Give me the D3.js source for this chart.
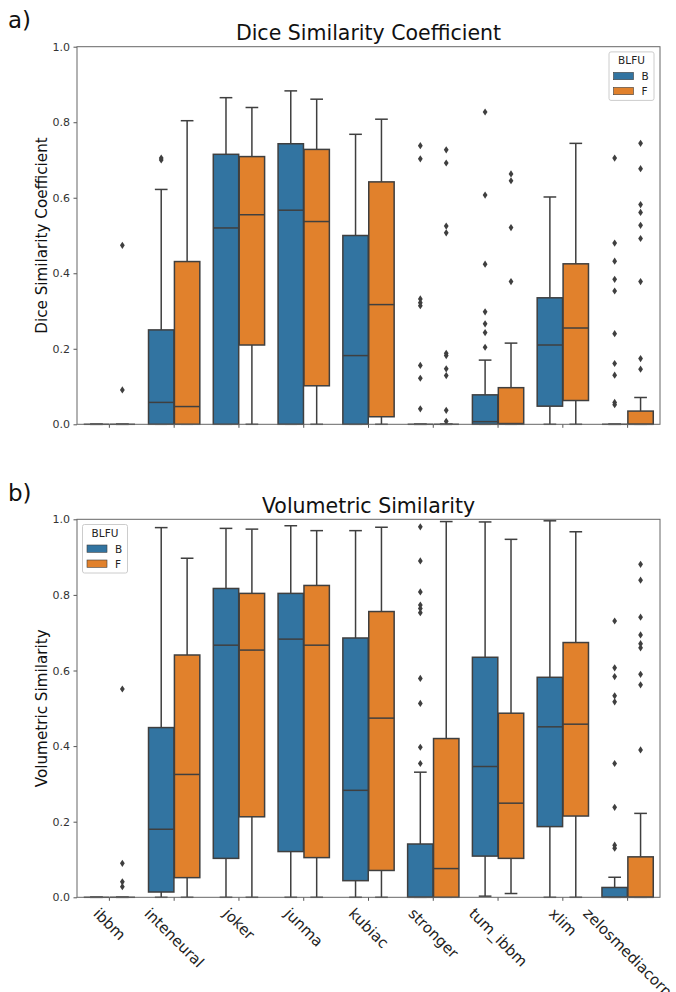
<!DOCTYPE html>
<html>
<head>
<meta charset="utf-8">
<script src="https://cdn.jsdelivr.net/npm/d3@7"></script>
<style>
  body { margin: 0; background: #fff; }
  text { font-family: "DejaVu Sans", sans-serif; }
</style>
</head>
<body>
<svg id="chart"></svg>
<script>
// ---- data ----
const teams = ["ibbm", "inteneural", "joker", "junma", "kubiac", "stronger", "tum_ibbm", "xlim", "zelosmediacorp"]
const hues = ["B", "F"]
const yTicks = [0, 0.2, 0.4, 0.6, 0.8, 1.0]

// Dice, hue B
const diceB_lo  = [0, 0, 0, 0, 0, 0, 0, 0, 0]
const diceB_q1  = [0, 0, 0, 0, 0, 0, 0, 0.048, 0]
const diceB_med = [0, 0.058, 0.52, 0.567, 0.182, 0, 0.007, 0.21, 0]
const diceB_q3  = [0, 0.25, 0.715, 0.743, 0.50, 0, 0.078, 0.335, 0]
const diceB_hi  = [0, 0.622, 0.865, 0.883, 0.768, 0, 0.17, 0.602, 0]
const diceB_out = [
  [], [0.700, 0.705], [], [], [],
  [0.738, 0.703, 0.332, 0.322, 0.314, 0.156, 0.122, 0.041],
  [0.827, 0.607, 0.424, 0.298, 0.266, 0.243, 0.204],
  [],
  [0.705, 0.48, 0.432, 0.384, 0.353, 0.24, 0.161, 0.13, 0.058, 0.052]
]
// Dice, hue F
const diceF_lo  = [0, 0, 0, 0, 0, 0, 0, 0, 0]
const diceF_q1  = [0, 0, 0.21, 0.102, 0.02, 0, 0, 0.063, 0]
const diceF_med = [0, 0.047, 0.555, 0.537, 0.317, 0, 0.002, 0.255, 0]
const diceF_q3  = [0, 0.431, 0.709, 0.728, 0.642, 0, 0.097, 0.425, 0.035]
const diceF_hi  = [0, 0.804, 0.839, 0.861, 0.808, 0, 0.215, 0.744, 0.071]
const diceF_out = [
  [0.474, 0.091], [], [], [], [],
  [0.727, 0.692, 0.525, 0.507, 0.188, 0.182, 0.147, 0.129, 0.037, 0.008],
  [0.663, 0.645, 0.521, 0.378],
  [],
  [0.744, 0.677, 0.582, 0.561, 0.527, 0.492, 0.378, 0.174, 0.146]
]

// Volumetric, hue B
const volB_lo  = [0, 0, 0, 0, 0, 0, 0.003, 0, 0]
const volB_q1  = [0, 0.014, 0.103, 0.121, 0.044, 0, 0.109, 0.187, 0]
const volB_med = [0, 0.18, 0.667, 0.683, 0.283, 0, 0.346, 0.451, 0]
const volB_q3  = [0, 0.449, 0.817, 0.804, 0.686, 0.141, 0.635, 0.582, 0.026]
const volB_hi  = [0, 0.978, 0.976, 0.983, 0.97, 0.331, 0.993, 0.996, 0.053]
const volB_out = [
  [], [], [], [], [],
  [0.98, 0.89, 0.808, 0.773, 0.764, 0.753, 0.579, 0.513, 0.397, 0.354],
  [], [],
  [0.731, 0.607, 0.584, 0.533, 0.517, 0.354, 0.238, 0.138, 0.13]
]
// Volumetric, hue F
const volF_lo  = [0, 0, 0, 0, 0, 0, 0.01, 0, 0]
const volF_q1  = [0, 0.052, 0.213, 0.105, 0.071, 0, 0.103, 0.215, 0]
const volF_med = [0, 0.325, 0.654, 0.667, 0.474, 0.076, 0.249, 0.458, 0]
const volF_q3  = [0, 0.641, 0.804, 0.825, 0.756, 0.42, 0.487, 0.674, 0.107]
const volF_hi  = [0, 0.897, 0.974, 0.97, 0.979, 0.994, 0.947, 0.967, 0.222]
const volF_out = [
  [0.551, 0.09, 0.041, 0.028], [], [], [], [], [], [], [],
  [0.881, 0.839, 0.741, 0.694, 0.671, 0.66, 0.59, 0.562, 0.39]
]

// ---- layout ----
const width = 676, height = 992
const left = 77, right = 660
const colors = { B: "#3274a1", F: "#e1812c" }
const edge = "#3f3f3f"

const svg = d3.select("#chart").attr("width", width).attr("height", height)

const x = d3.scaleBand().domain(teams).range([left, right]).padding(0)
const hueX = d3.scaleBand().domain(hues).range([0.1, 0.9]) // fraction of a band

const makeRows = (lo, q1, med, q3, hi, out) =>
  teams.map((t, i) => ({ team: t, lo: lo[i], q1: q1[i], med: med[i], q3: q3[i], hi: hi[i], out: out[i] }))

const panels = [
  {
    letter: "a)", title: "Dice Similarity Coefficient", ylabel: "Dice Similarity Coefficient",
    top: 46.7, bottom: 424.3, legend: "right", labels: false,
    series: {
      B: makeRows(diceB_lo, diceB_q1, diceB_med, diceB_q3, diceB_hi, diceB_out),
      F: makeRows(diceF_lo, diceF_q1, diceF_med, diceF_q3, diceF_hi, diceF_out)
    }
  },
  {
    letter: "b)", title: "Volumetric Similarity", ylabel: "Volumetric Similarity",
    top: 519.3, bottom: 897.3, legend: "left", labels: true,
    series: {
      B: makeRows(volB_lo, volB_q1, volB_med, volB_q3, volB_hi, volB_out),
      F: makeRows(volF_lo, volF_q1, volF_med, volF_q3, volF_hi, volF_out)
    }
  }
]

const diamond = "M0,-3.6L2.4,0L0,3.6L-2.4,0Z"

const drawPanel = (p) => {
  const y = d3.scaleLinear().domain([0, 1]).range([p.bottom, p.top])
  const g = svg.append("g")
  const boxW = x.bandwidth() * 0.4 * 0.98
  const capW = boxW / 2

  // panel letter + title
  g.append("text").attr("x", 8).attr("y", p.top - 18.5)
    .attr("font-size", 23).attr("fill", "#111").text(p.letter)
  g.append("text").attr("x", (left + right) / 2).attr("y", p.top - 6.8)
    .attr("text-anchor", "middle").attr("font-size", 20.5).attr("fill", "#111").text(p.title)

  // y axis label
  g.append("text")
    .attr("transform", `translate(47, ${(p.top + p.bottom) / 2}) rotate(-90)`)
    .attr("text-anchor", "middle").attr("font-size", 15.2).attr("fill", "#111").text(p.ylabel)

  // y axis
  const ya = g.append("g").attr("transform", `translate(${left},0)`)
    .call(d3.axisLeft(y).tickValues(yTicks).tickFormat(d3.format(".1f")).tickSize(3.5).tickPadding(3.5))
  ya.select(".domain").remove()
  ya.selectAll(".tick line").attr("stroke", "#555")
  ya.selectAll(".tick text").attr("font-size", 11).attr("fill", "#333").style("font-family", "DejaVu Sans")

  // x axis ticks
  const xa = g.append("g").attr("transform", `translate(0,${p.bottom})`)
    .call(d3.axisBottom(x).tickSize(3.5).tickFormat(""))
  xa.select(".domain").remove()
  xa.selectAll(".tick line").attr("stroke", "#555")

  // boxes
  hues.forEach(h => {
    const rows = p.series[h]
    const cx = d => x(d.team) + x.bandwidth() * (hueX(h) + hueX.bandwidth() / 2)
    const bg = g.append("g")

    // whiskers
    bg.selectAll(".wl").data(rows).enter().append("line")
      .attr("x1", cx).attr("x2", cx)
      .attr("y1", d => y(d.q1)).attr("y2", d => y(d.lo))
      .attr("stroke", edge).attr("stroke-width", 1.5)
    bg.selectAll(".wh").data(rows).enter().append("line")
      .attr("x1", cx).attr("x2", cx)
      .attr("y1", d => y(d.q3)).attr("y2", d => y(d.hi))
      .attr("stroke", edge).attr("stroke-width", 1.5)
    // caps
    bg.selectAll(".cl").data(rows).enter().append("line")
      .attr("x1", d => cx(d) - capW / 2).attr("x2", d => cx(d) + capW / 2)
      .attr("y1", d => y(d.lo)).attr("y2", d => y(d.lo))
      .attr("stroke", edge).attr("stroke-width", 1.5)
    bg.selectAll(".ch").data(rows).enter().append("line")
      .attr("x1", d => cx(d) - capW / 2).attr("x2", d => cx(d) + capW / 2)
      .attr("y1", d => y(d.hi)).attr("y2", d => y(d.hi))
      .attr("stroke", edge).attr("stroke-width", 1.5)
    // box
    bg.selectAll(".box").data(rows).enter().append("rect")
      .attr("x", d => cx(d) - boxW / 2).attr("width", boxW)
      .attr("y", d => y(d.q3)).attr("height", d => y(d.q1) - y(d.q3))
      .attr("fill", colors[h]).attr("stroke", edge).attr("stroke-width", 1.5)
    // median
    bg.selectAll(".med").data(rows).enter().append("line")
      .attr("x1", d => cx(d) - boxW / 2).attr("x2", d => cx(d) + boxW / 2)
      .attr("y1", d => y(d.med)).attr("y2", d => y(d.med))
      .attr("stroke", edge).attr("stroke-width", 1.5)
    // outliers
    const flier = rows.flatMap(d => d.out.map(v => ({ x: cx(d), v })))
    bg.selectAll(".out").data(flier).enter().append("path")
      .attr("d", diamond)
      .attr("transform", d => `translate(${d.x},${y(d.v)})`)
      .attr("fill", edge)
  })

  // frame
  g.append("rect").attr("x", left).attr("y", p.top)
    .attr("width", right - left).attr("height", p.bottom - p.top)
    .attr("fill", "none").attr("stroke", "#666").attr("stroke-width", 1)

  // legend
  const lw = 45, lh = 48.5
  const lx = p.legend === "right" ? right - 6 - lw : left + 5.5
  const ly = p.top + 5.2
  const lg = g.append("g").attr("transform", `translate(${lx},${ly})`)
  lg.append("rect").attr("width", lw).attr("height", lh).attr("rx", 2)
    .attr("fill", "#fff").attr("fill-opacity", 0.8).attr("stroke", "#ccc").attr("stroke-width", 1)
  lg.append("text").attr("x", lw / 2).attr("y", 12.5).attr("text-anchor", "middle")
    .attr("font-size", 10.5).attr("fill", "#222").text("BLFU")
  const item = lg.selectAll(".item").data(hues).enter().append("g")
    .attr("transform", (d, i) => `translate(4.5, ${20.5 + i * 15})`)
  item.append("rect").attr("width", 20).attr("height", 7.3)
    .attr("fill", d => colors[d]).attr("stroke", edge).attr("stroke-width", 0.6)
  item.append("text").attr("x", 28).attr("y", 7.6)
    .attr("font-size", 10.5).attr("fill", "#222").text(d => d)

  // rotated x tick labels, centred under each tick like matplotlib
  if (p.labels) {
    const fs = 15
    const top = p.bottom + 7.5
    g.selectAll(".xl").data(teams).enter().append("text")
      .attr("font-size", fs).attr("fill", "#222")
      .attr("text-anchor", "middle").attr("dominant-baseline", "central")
      .text(d => d)
      .each(function (d) {
        const w = this.getComputedTextLength()
        const half = (w + fs * 1.15) / (2 * Math.SQRT2)
        d3.select(this).attr("transform",
          `translate(${x(d) + x.bandwidth() / 2}, ${top + half}) rotate(45)`)
      })
  }
}

panels.forEach(drawPanel)
</script>
</body>
</html>
